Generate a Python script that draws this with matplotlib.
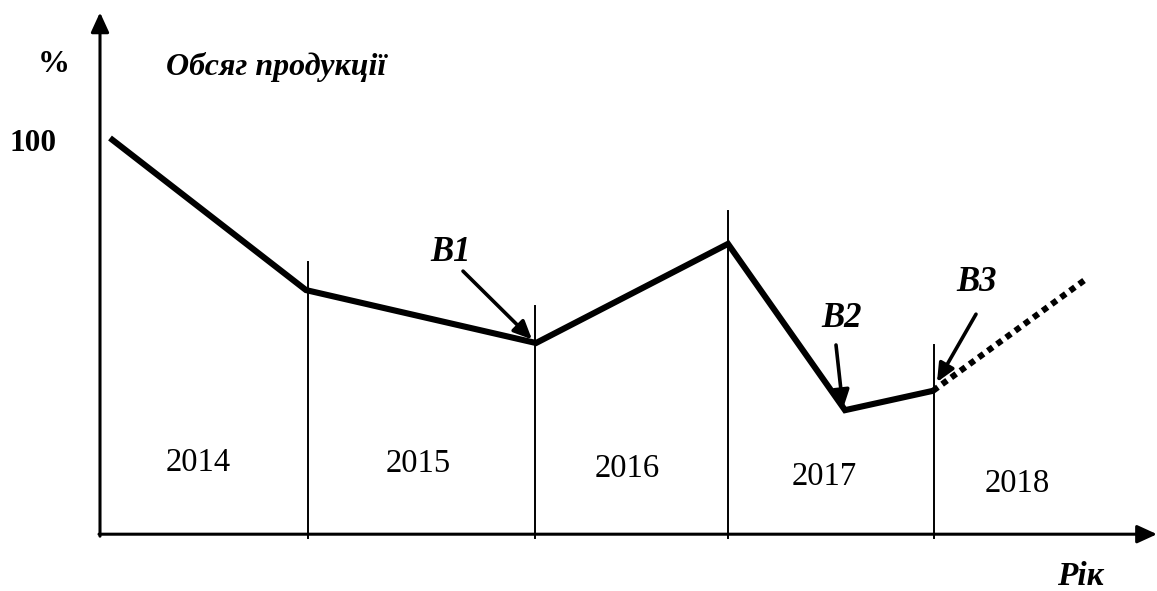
import matplotlib
matplotlib.use("Agg")
import matplotlib.pyplot as plt

# ---- data (schematic positions on x, percent on y) ----
years = ["2014", "2015", "2016", "2017", "2018"]
year_label_x = [198, 418, 627, 824, 1017]
year_label_y = [18.3, 18.0, 16.7, 14.7, 12.9]

boundary_x = [308, 535, 728, 934]
boundary_top = [69.1, 58.0, 82.0, 48.1]

volume_x = [110, 306, 536, 728, 845, 933]
volume_y = [100.5, 62.0, 48.6, 73.7, 31.6, 36.5]

forecast_x = [933, 1085]
forecast_y = [36.5, 64.6]

marker_labels = ["B1", "B2", "B3"]
marker_text_x = [451, 842, 977]
marker_text_y = [71.6, 54.7, 64.0]
marker_tail_x = [463, 836, 976]
marker_tail_y = [66.8, 48.1, 55.9]
marker_tip_x = [532, 843, 937]
marker_tip_y = [49.5, 32.0, 38.7]

SERIF = ["Liberation Serif", "DejaVu Serif"]

fig = plt.figure(figsize=(11.57, 5.91), dpi=100)
ax = fig.add_axes([0, 0, 1, 1])
ax.set_xlim(0, 1157)
ax.set_ylim(-14.18, 135.44)
ax.axis("off")

# axes arrows
ax.annotate("", xy=(100, 132.3), xytext=(100, -0.3),
            arrowprops=dict(arrowstyle="-|>,head_length=1.2,head_width=0.55",
                            lw=2.2, color="black", shrinkA=0, shrinkB=0))
ax.annotate("", xy=(1157, 0.2), xytext=(99, 0.2),
            arrowprops=dict(arrowstyle="-|>,head_length=1.2,head_width=0.55",
                            lw=2.2, color="black", shrinkA=0, shrinkB=0))

# period boundaries
for bx, bt in zip(boundary_x, boundary_top):
    ax.plot([bx, bx], [-0.8, bt], color="black", lw=1.4)

# volume line
ax.plot(volume_x, volume_y, color="black", lw=4.4, solid_joinstyle="miter",
        solid_capstyle="butt")
ax.plot(forecast_x, forecast_y, color="black", lw=4.4,
        linestyle=(0, (1, 0.85)), dash_capstyle="butt")

# B markers
for lab, tx, ty, sx, sy, px, py in zip(marker_labels, marker_text_x, marker_text_y,
                                       marker_tail_x, marker_tail_y,
                                       marker_tip_x, marker_tip_y):
    ax.annotate("", xy=(px, py), xytext=(sx, sy),
                arrowprops=dict(arrowstyle="-|>,head_length=1.1,head_width=0.5",
                                lw=2.6, color="black", shrinkA=0, shrinkB=0))
    ax.text(tx, ty, lab, family=SERIF, fontsize=25, fontweight="bold",
            fontstyle="italic", ha="center", va="center")

# year labels
for y, lx, ly in zip(years, year_label_x, year_label_y):
    ax.text(lx, ly, y, family=SERIF, fontsize=23.5, ha="center", va="center")

# texts
ax.text(54, 119.2, "%", family=SERIF, fontsize=23, fontweight="bold",
        ha="center", va="center")
ax.text(33, 99.2, "100", family=SERIF, fontsize=22.5, fontweight="bold",
        ha="center", va="center")
ax.text(276, 118.5, "Обсяг продукції", family=SERIF, fontsize=23,
        fontweight="bold", fontstyle="italic", ha="center", va="center")
ax.text(1080, -10.6, "Рік", family=SERIF, fontsize=24, fontweight="bold",
        fontstyle="italic", ha="center", va="center")

fig.savefig("out.png", dpi=100)
